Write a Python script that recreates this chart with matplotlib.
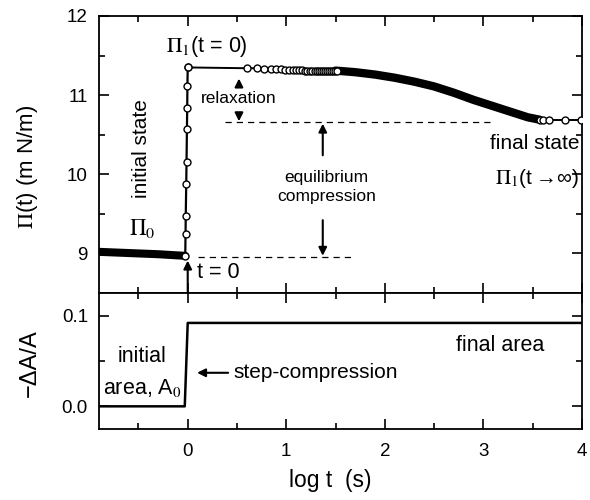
import matplotlib
matplotlib.use("Agg")
import matplotlib.pyplot as plt
from matplotlib.ticker import MultipleLocator

plt.rcParams['font.family'] = ['Liberation Sans', 'DejaVu Sans']
plt.rcParams['mathtext.fontset'] = 'stix'

# ---- data (x = log t) ----
# initial state before the step (dense points, drawn as a band)
logt_init = [-0.90, -0.70, -0.50, -0.30, -0.10, -0.025]
pi_init = [9.02, 9.01, 9.00, 8.99, 8.975, 8.97]

# the jump at t = 0
logt_jump = [-0.025, -0.022, -0.020, -0.015, -0.012, -0.008, -0.005, -0.003, 0.0]
pi_jump = [8.97, 9.25, 9.47, 9.88, 10.16, 10.57, 10.84, 11.12, 11.35]

# early relaxation, circles still distinguishable
logt_relax = [0.0, 0.60, 0.70, 0.77, 0.84, 0.90, 0.95, 0.99, 1.03, 1.07, 1.10,
              1.13, 1.16, 1.19, 1.215, 1.24, 1.265, 1.29, 1.31, 1.33, 1.35,
              1.37, 1.39, 1.41, 1.43, 1.45, 1.47, 1.49, 1.51]
pi_relax = [11.35, 11.34, 11.34, 11.335, 11.33, 11.33, 11.325, 11.32, 11.32,
            11.32, 11.315, 11.315, 11.315, 11.31, 11.31, 11.31, 11.31, 11.31,
            11.31, 11.31, 11.31, 11.31, 11.31, 11.31, 11.31, 11.31, 11.31,
            11.31, 11.31]

# later relaxation, points overlap into a solid band
logt_band = [1.50, 1.70, 1.90, 2.10, 2.30, 2.50, 2.70, 2.90, 3.10, 3.30, 3.45, 3.57]
pi_band = [11.31, 11.29, 11.26, 11.22, 11.17, 11.11, 11.03, 10.94, 10.86, 10.78, 10.72, 10.69]

# final state
logt_final = [3.57, 3.60, 3.67, 3.83, 3.99]
pi_final = [10.69, 10.69, 10.69, 10.69, 10.69]

# area step (lower panel)
logt_area = [-0.90, -0.03, 0.0, 4.0]
area = [0.0, 0.0, 0.092, 0.092]

fig = plt.figure(figsize=(5.9, 5.0), dpi=100)
ax1 = fig.add_axes([99/590, 0.414, 483/590, 0.554])
ax2 = fig.add_axes([99/590, 0.142, 483/590, 0.272])

mk = dict(marker='o', ms=5.0, mfc='white', mec='k', mew=1.0, color='k')

ax1.plot(logt_init, pi_init, color='k', lw=5.8, solid_capstyle='round', zorder=3)
ax1.plot(logt_jump, pi_jump, lw=1.6, zorder=4, **mk)
ax1.plot(logt_relax, pi_relax, lw=1.4, zorder=4, **mk)
ax1.plot(logt_band, pi_band, color='k', lw=6.0, solid_capstyle='round', zorder=3)
ax1.plot(logt_final, pi_final, lw=1.4, zorder=4, **mk)

ax2.plot(logt_area, area, color='k', lw=1.8)

# dashed reference levels
ax1.plot([0.10, 1.68], [8.95, 8.95], color='k', lw=0.9, ls=(0, (5, 4)))
ax1.plot([0.38, 3.09], [10.66, 10.66], color='k', lw=0.9, ls=(0, (5, 4)))

arr = dict(arrowstyle='-|>', color='k', lw=1.5, mutation_scale=12,
           shrinkA=0, shrinkB=0)
ax1.annotate('', xy=(0.0, 8.91), xytext=(0.0, 8.52), arrowprops=arr)
ax1.annotate('', xy=(0.52, 11.21), xytext=(0.52, 11.12), arrowprops=arr)
ax1.annotate('', xy=(0.52, 10.67), xytext=(0.52, 10.76), arrowprops=arr)
ax1.annotate('', xy=(1.37, 10.64), xytext=(1.37, 10.24), arrowprops=arr)
ax1.annotate('', xy=(1.37, 8.97), xytext=(1.37, 9.42), arrowprops=arr)

ax1.text(0.19, 11.61, r'$\Pi_1$(t = 0)', fontsize=15.5, ha='center', va='center')
ax1.text(-0.47, 10.33, 'initial state', fontsize=15, rotation=90,
         ha='center', va='center')
ax1.text(-0.46, 9.31, r'$\Pi_0$', fontsize=16.5, ha='center', va='center')
ax1.text(0.09, 8.76, 't = 0', fontsize=15.5, ha='left', va='center')
ax1.text(0.52, 10.96, 'relaxation', fontsize=12.5, ha='center', va='center')
ax1.text(1.41, 9.835, 'equilibrium\ncompression', fontsize=12.5,
         ha='center', va='center', linespacing=1.35)
ax1.text(3.97, 10.39, 'final state', fontsize=15, ha='right', va='center')
ax1.text(3.97, 9.95, '$\\Pi_1$(t\u2009\u2192\u221e)', fontsize=15,
         ha='right', va='center')

ax2.text(-0.46, 0.055, 'initial', fontsize=15.5, ha='center', va='center')
ax2.text(-0.46, 0.020, r'area, A$_0$', fontsize=15.5, ha='center', va='center')
ax2.annotate('', xy=(0.095, 0.037), xytext=(0.41, 0.037), arrowprops=arr)
ax2.text(0.46, 0.037, 'step-compression', fontsize=15, ha='left', va='center')
ax2.text(3.17, 0.067, 'final area', fontsize=15.5, ha='center', va='center')

for ax in (ax1, ax2):
    ax.set_xlim(-0.9, 4.0)
    ax.xaxis.set_major_locator(MultipleLocator(1))
    ax.xaxis.set_minor_locator(MultipleLocator(0.5))
    ax.tick_params(which='both', direction='in', top=True, right=True,
                   width=1.2, labelsize=13.5)
    ax.tick_params(which='major', length=7)
    ax.tick_params(which='minor', length=4)
    ax.tick_params(axis='x', pad=10)
    ax.tick_params(axis='y', pad=8)
    for s in ax.spines.values():
        s.set_linewidth(1.3)

ax1.set_ylim(8.5, 12.0)
ax1.yaxis.set_major_locator(MultipleLocator(1))
ax1.yaxis.set_minor_locator(MultipleLocator(0.5))
ax1.tick_params(labelbottom=False)

ax2.set_ylim(-0.025, 0.125)
ax2.yaxis.set_major_locator(MultipleLocator(0.1))
ax2.yaxis.set_minor_locator(MultipleLocator(0.05))
ax2.yaxis.set_major_formatter(matplotlib.ticker.FormatStrFormatter('%.1f'))

fig.text(27/590, 1 - 167/500, r'$\Pi$(t) (m N/m)', fontsize=16,
         rotation=90, ha='center', va='center')
fig.text(30/590, 1 - 363/500, '\u2212\u0394A/A', fontsize=17,
         rotation=90, ha='center', va='center')
fig.text(330/590, 1 - 480/500, 'log t  (s)', fontsize=16.5,
         ha='center', va='center')

fig.savefig('out.png', dpi=100)
